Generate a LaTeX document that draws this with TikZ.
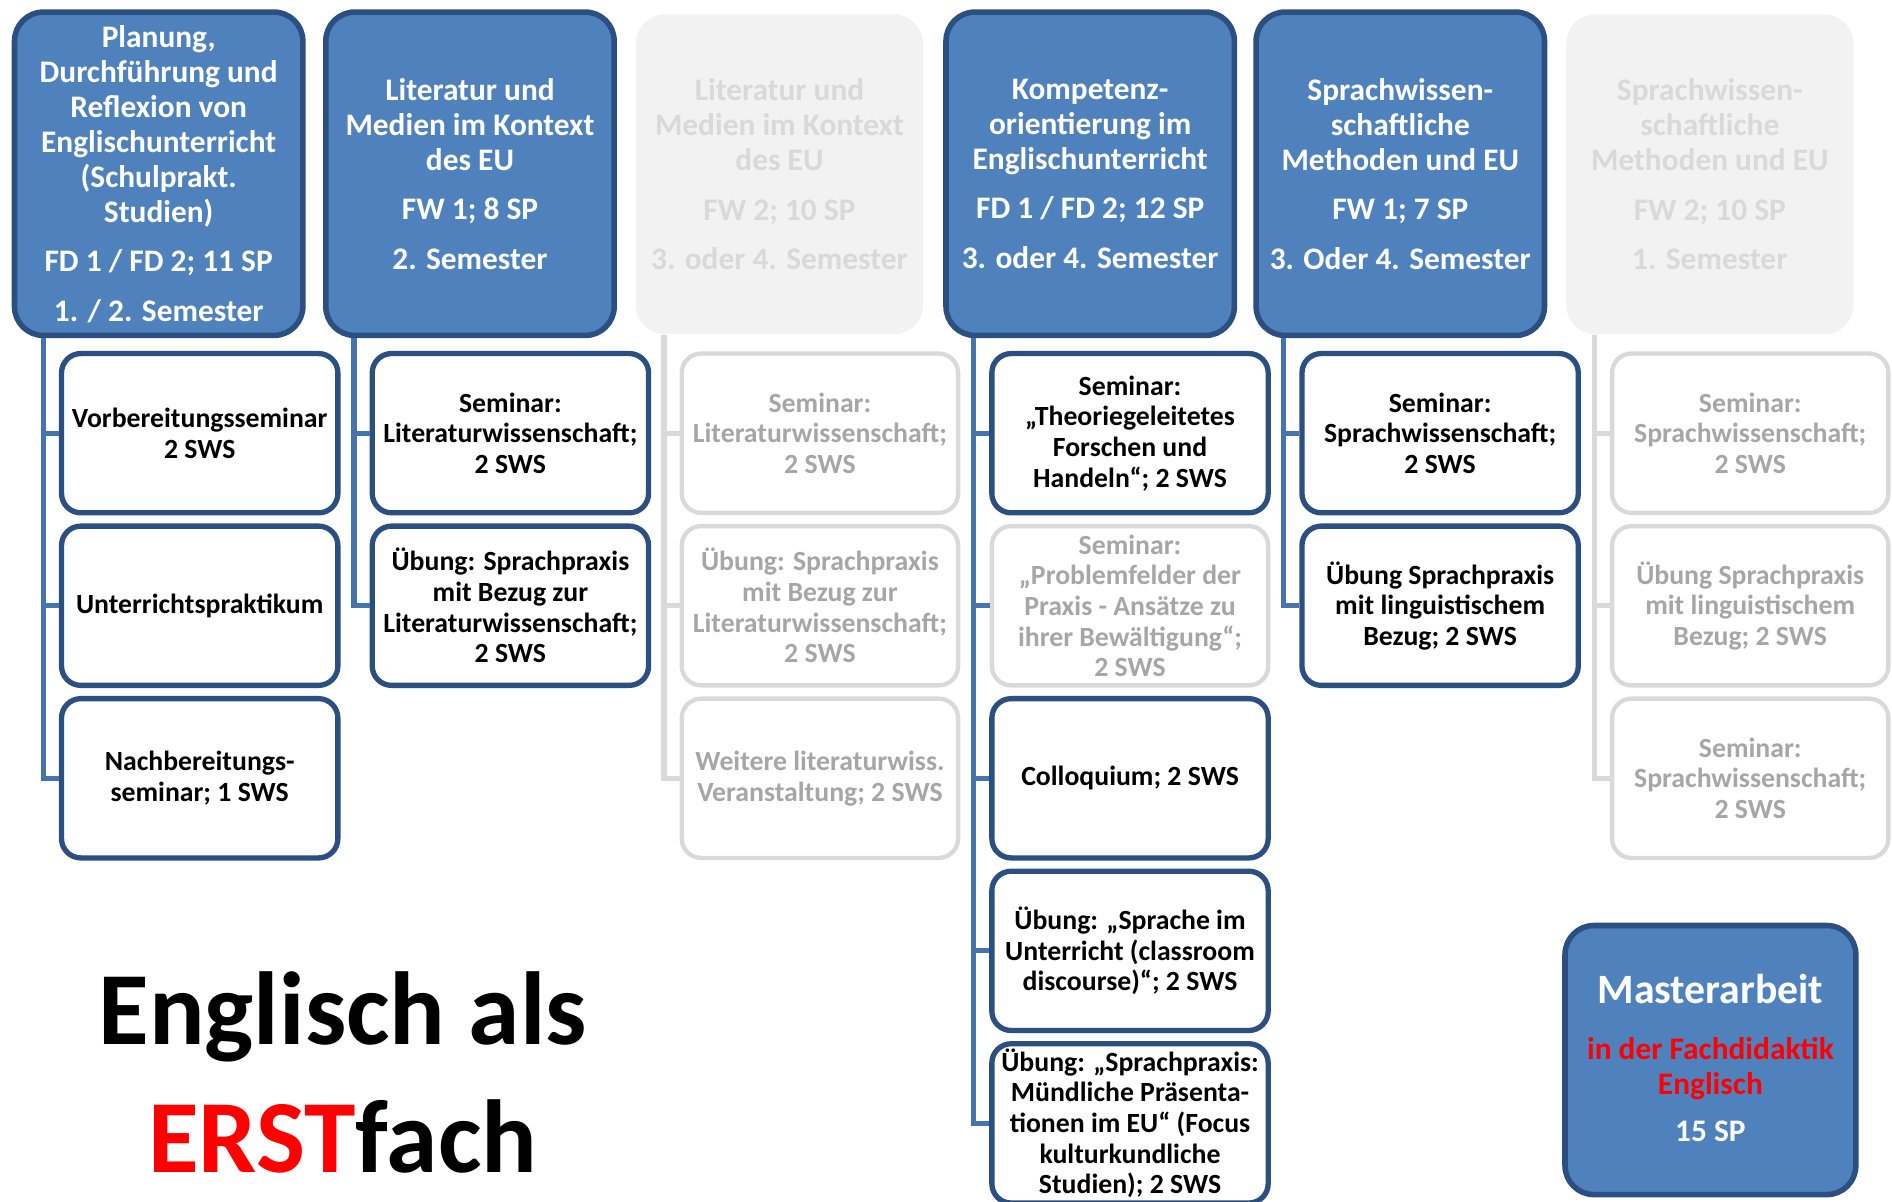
\documentclass[tikz,border=0pt]{standalone}
\usepackage{fontspec}
\setmainfont{Carlito}
\usetikzlibrary{calc}
\definecolor{hfill}{HTML}{4F81BD}
\definecolor{hdraw}{HTML}{2B4F80}
\definecolor{conncol}{HTML}{4675AE}
\definecolor{gfill}{HTML}{F2F2F2}
\definecolor{gtext}{HTML}{D9D9D9}
\definecolor{gline}{HTML}{D9D9D9}
\definecolor{gctext}{HTML}{A6A6A6}
\definecolor{rred}{HTML}{FF0000}
\begin{document}
\begin{tikzpicture}[x=0.5pt,y=-0.5pt,
  head/.style={draw=hdraw, fill=hfill, line width=2.3pt, rounded corners=12pt,
    minimum width=119.5pt, minimum height=134pt, text=white, align=center,
    font=\bfseries\fontsize{13}{14.5}\selectfont, inner sep=0pt},
  ghead/.style={fill=gfill, rounded corners=12pt, minimum width=119pt,
    minimum height=132.5pt, text=gtext, align=center,
    font=\bfseries\fontsize{13}{14.5}\selectfont, inner sep=0pt},
  child/.style={draw=hdraw, fill=white, line width=2.2pt, rounded corners=8pt,
    minimum width=114.5pt, minimum height=66pt, align=center,
    font=\bfseries\fontsize{11.5}{12.7}\selectfont, inner sep=0pt},
  gchild/.style={child, draw=gline, line width=1.8pt, text=gctext},
  conn/.style={draw=conncol, line width=2.2pt},
  gconn/.style={draw=gline, line width=2.2pt},
  txt/.style={anchor=base, inner sep=0pt, font=\bfseries\fontsize{13}{14.5}\selectfont},
]
\useasboundingbox (0,0) rectangle (1568,996);

% headers
\node[head] (h1) at (131.5,144) {Planung,\\Durchführung und\\Reflexion von\\Englischunterricht\\(Schulprakt.\\Studien)\\[6pt]FD 1 / FD 2; 11 SP\\[6pt]1. / 2. Semester};
\node[head] (h2) at (389.5,144) {Literatur und\\Medien im Kontext\\des EU\\[6pt]FW 1; 8 SP\\[6pt]2. Semester};
\node[ghead] (h3) at (646,144.5) {Literatur und\\Medien im Kontext\\des EU\\[6pt]FW 2; 10 SP\\[6pt]3. oder 4. Semester};
\node[head] (h4) at (903.5,144) {Kompetenz-\\orientierung im\\Englischunterricht\\[6pt]FD 1 / FD 2; 12 SP\\[6pt]3. oder 4. Semester};
\node[head] (h5) at (1160.5,144) {Sprachwissen-\\schaftliche\\Methoden und EU\\[6pt]FW 1; 7 SP\\[6pt]3. Oder 4. Semester};
\node[ghead] (h6) at (1417,144.5) {Sprachwissen-\\schaftliche\\Methoden und EU\\[6pt]FW 2; 10 SP\\[6pt]1. Semester};

% column 1
\node[child] (c11) at (165.5,359) {Vorbereitungsseminar\\2 SWS};
\node[child] (c12) at (165.5,502) {Unterrichtspraktikum};
\node[child] (c13) at (165.5,645) {Nachbereitungs-\\seminar; 1 SWS};
% column 2
\node[child] (c21) at (423,359) {Seminar:\\Literaturwissenschaft;\\2 SWS};
\node[child] (c22) at (423,502) {Übung: Sprachpraxis\\mit Bezug zur\\Literaturwissenschaft;\\2 SWS};
% column 3
\node[gchild] (c31) at (679.5,359) {Seminar:\\Literaturwissenschaft;\\2 SWS};
\node[gchild] (c32) at (679.5,502) {Übung: Sprachpraxis\\mit Bezug zur\\Literaturwissenschaft;\\2 SWS};
\node[gchild] (c33) at (679.5,645) {Weitere literaturwiss.\\Veranstaltung; 2 SWS};
% column 4
\node[child] (c41) at (936.5,359) {Seminar:\\„Theoriegeleitetes\\Forschen und\\Handeln“; 2 SWS};
\node[gchild] (c42) at (936.5,502) {Seminar:\\„Problemfelder der\\Praxis - Ansätze zu\\ihrer Bewältigung“;\\2 SWS};
\node[child] (c43) at (936.5,645) {Colloquium; 2 SWS};
\node[child] (c44) at (936.5,788) {Übung: „Sprache im\\Unterricht (classroom\\discourse)“; 2 SWS};
\node[child] (c45) at (936.5,931) {Übung: „Sprachpraxis:\\Mündliche Präsenta-\\tionen im EU“ (Focus\\kulturkundliche\\Studien); 2 SWS};
% column 5
\node[child] (c51) at (1193.5,359) {Seminar:\\Sprachwissenschaft;\\2 SWS};
\node[child] (c52) at (1193.5,502) {Übung Sprachpraxis\\mit linguistischem\\Bezug; 2 SWS};
% column 6
\node[gchild] (c61) at (1450.5,359) {Seminar:\\Sprachwissenschaft;\\2 SWS};
\node[gchild] (c62) at (1450.5,502) {Übung Sprachpraxis\\mit linguistischem\\Bezug; 2 SWS};
\node[gchild] (c63) at (1450.5,645) {Seminar:\\Sprachwissenschaft;\\2 SWS};

% connectors
\foreach \c in {1,...,6}{\coordinate (t\c) at ($(c\c1.west)+(-13,0)$);}
\draw[conn] (t1 |- h1.south) |- (c13.west);
\foreach \r in {1,2}{\draw[conn] (t1 |- c1\r.west) -- (c1\r.west);}
\draw[conn] (t2 |- h2.south) |- (c22.west);
\draw[conn] (t2 |- c21.west) -- (c21.west);
\draw[gconn] (t3 |- h3.south) |- (c33.west);
\foreach \r in {1,2}{\draw[gconn] (t3 |- c3\r.west) -- (c3\r.west);}
\draw[conn] (t4 |- h4.south) |- (c45.west);
\foreach \r in {1,2,3,4}{\draw[conn] (t4 |- c4\r.west) -- (c4\r.west);}
\draw[conn] (t5 |- h5.south) |- (c52.west);
\draw[conn] (t5 |- c51.west) -- (c51.west);
\draw[gconn] (t6 |- h6.south) |- (c63.west);
\foreach \r in {1,2}{\draw[gconn] (t6 |- c6\r.west) -- (c6\r.west);}

% title
\node[anchor=base, inner sep=0pt, font=\bfseries\fontsize{43}{50}\selectfont] (title1) at (284,866) {Englisch als};
\node[anchor=base, inner sep=0pt, font=\bfseries\fontsize{43}{50}\selectfont] (title2) at (284,972) {\textcolor{rred}{ERST}fach};

% Masterarbeit
\node[draw=hdraw, fill=hfill, line width=2.3pt, rounded corners=12pt, minimum width=120.5pt, minimum height=111.5pt] (m) at (1417.5,878.5) {};
\node[txt, text=white, font=\bfseries\fontsize{17.3}{20}\selectfont] (m1) at (1417.5,832) {Masterarbeit};
\node[txt, text=rred] (m2) at (1417.5,878) {in der Fachdidaktik};
\node[txt, text=rred] (m3) at (1417.5,907) {Englisch};
\node[txt, text=white] (m4) at (1417.5,946) {15 SP};
\end{tikzpicture}
\end{document}
